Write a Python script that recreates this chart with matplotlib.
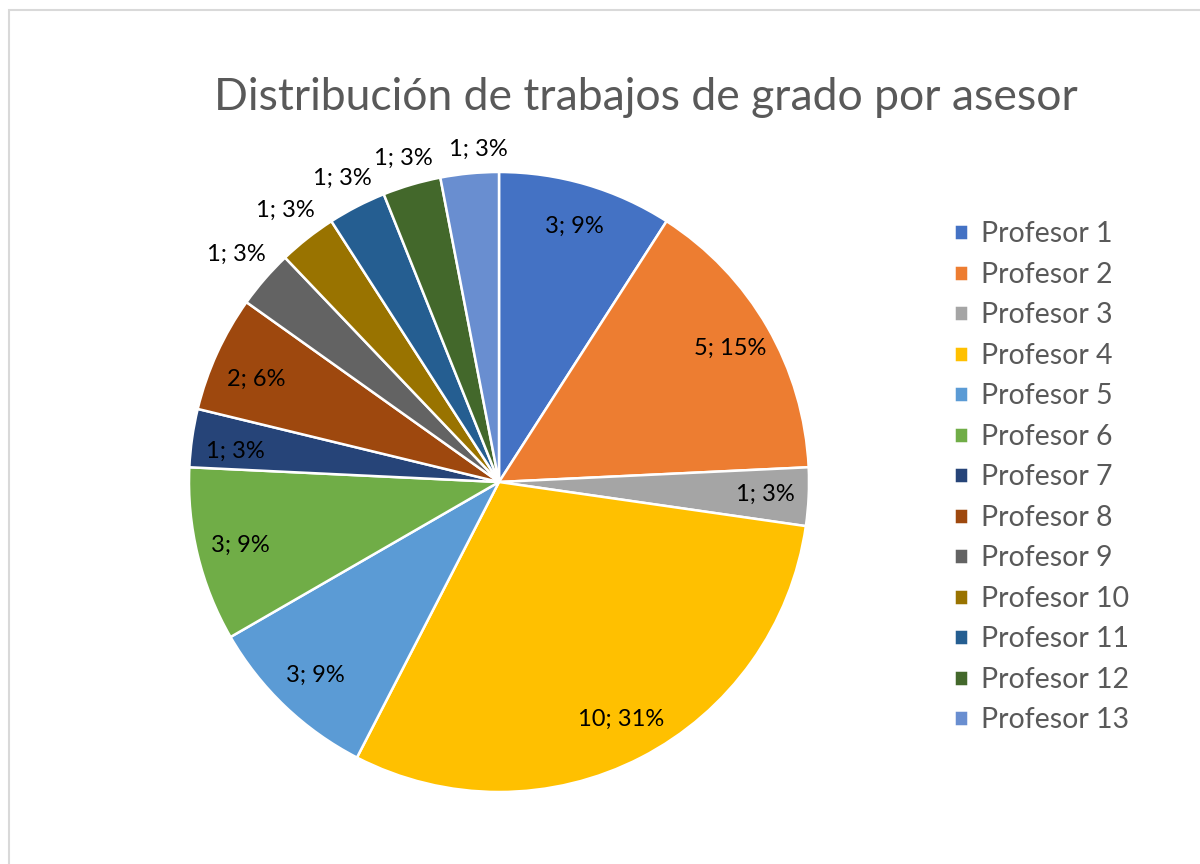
import matplotlib.pyplot as plt
import matplotlib.patches as mpatches
import numpy as np

plt.rcParams['font.family'] = ['Lato', 'DejaVu Sans']

profesores = ['Profesor 1', 'Profesor 2', 'Profesor 3', 'Profesor 4', 'Profesor 5',
              'Profesor 6', 'Profesor 7', 'Profesor 8', 'Profesor 9', 'Profesor 10',
              'Profesor 11', 'Profesor 12', 'Profesor 13']
trabajos = [3, 5, 1, 10, 3, 3, 1, 2, 1, 1, 1, 1, 1]
# percentages as shown by Excel (rounded to sum 100)
porcentajes = [9, 15, 3, 31, 9, 9, 3, 6, 3, 3, 3, 3, 3]
colores = ['#4472C4', '#ED7D31', '#A5A5A5', '#FFC000', '#5B9BD5', '#70AD47',
           '#264478', '#9E480E', '#636363', '#997300', '#255E91', '#43682B', '#698ED0']

W, H = 1200, 864
fig = plt.figure(figsize=(12, 8.64), dpi=100)

# chart area border
fig.patches.append(mpatches.Rectangle((9 / W, -0.05), 1.1, 1 - 10 / H + 0.05,
                                      transform=fig.transFigure, fill=False,
                                      edgecolor='#D9D9D9', linewidth=1.5))

cx, cy, R = 499, 482, 310
half = 350
ax = fig.add_axes([(cx - half) / W, (H - cy - half) / H, 2 * half / W, 2 * half / H])

wedges, _ = ax.pie(trabajos, colors=colores, startangle=90, counterclock=False,
                   radius=1, wedgeprops=dict(edgecolor='white', linewidth=1.8))
lim = half / R
ax.set_xlim(-lim, lim)
ax.set_ylim(-lim, lim)
ax.axis('off')

for i, w in enumerate(wedges):
    ang = np.deg2rad((w.theta1 + w.theta2) / 2)
    if i < 8:
        d = 0.86
    else:
        d = 1.07 + 0.07 * abs(np.cos(ang))
    x, y = d * np.cos(ang), d * np.sin(ang)
    if i == 12:
        x += 0.035  # keep the last two labels apart, like Excel does
    if i in (6, 7):
        y -= 0.025
    ax.text(x, y, f'{trabajos[i]}; {porcentajes[i]}%',
            ha='center', va='center', fontsize=17, color='black')

fig.text(646 / W, 1 - 98 / H, 'Distribución de trabajos de grado por asesor',
         ha='center', va='center', fontsize=32, color='#595959')

fig.legend(wedges, profesores, loc='upper left', bbox_to_anchor=(940 / W, 1 - 207 / H),
           frameon=False, fontsize=20.5, labelcolor='#595959',
           handlelength=0.5, handleheight=0.5, handletextpad=0.45,
           labelspacing=0.51, borderpad=0)

fig.savefig('out.png', dpi=100)
